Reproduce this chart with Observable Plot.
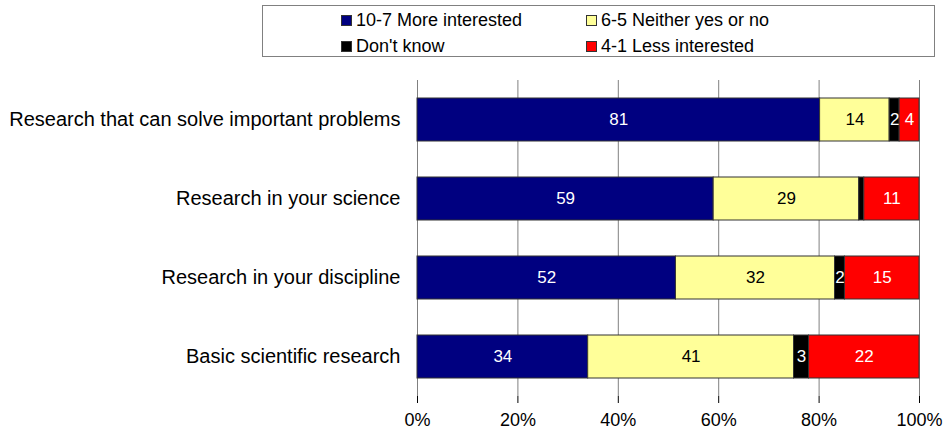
<!DOCTYPE html>
<html>
<head>
<meta charset="utf-8">
<script src="https://cdn.jsdelivr.net/npm/d3@7"></script>
<script src="https://cdn.jsdelivr.net/npm/@observablehq/plot@0.6"></script>
<style>
  body { margin: 0; background: #fff; font-family: "Liberation Sans", Arial, sans-serif; }
  #wrap { position: relative; width: 947px; height: 432px; }
  #legend { position: absolute; left: 262px; top: 5px; width: 671px; height: 50px; border: 1px solid #808080; background: #fff; font-size: 18px; color: #000; }
  .item { position: absolute; display: flex; align-items: center; white-space: nowrap; line-height: 20px; }
  .sw { width: 9px; height: 9px; border: 1px solid #333; margin-right: 4px; }
</style>
</head>
<body>
<div id="wrap"></div>
<script>
const categories = ["Research that can solve important problems", "Research in your science", "Research in your discipline", "Basic scientific research"];
const series = ["10-7 More interested", "6-5 Neither yes or no", "Don't know", "4-1 Less interested"];
const colors = ["#000080", "#FFFF99", "#000000", "#FF0000"];
const moreInterested = [81, 59, 52, 34];
const neither = [14, 29, 32, 41];
const dontKnow = [2, 1, 2, 3];
const lessInterested = [4, 11, 15, 22];
const xTicks = [0, 0.2, 0.4, 0.6, 0.8, 1];

const valuesBySeries = [moreInterested, neither, dontKnow, lessInterested];
const data = [];
categories.forEach((c, i) => {
  series.forEach((s, j) => data.push({category: c, series: s, value: valuesBySeries[j][i]}));
});

const stackOpts = {x: "value", y: "category", z: "series", order: series, offset: "normalize"};

const chart = Plot.plot({
  width: 947,
  height: 432,
  marginLeft: 417,
  marginRight: 28,
  marginTop: 80,
  marginBottom: 36,
  style: {fontFamily: "'Liberation Sans', Arial, sans-serif", fontSize: "18px", color: "#000", background: "#fff"},
  x: {domain: [0, 1]},
  y: {domain: categories, paddingInner: 0.456, paddingOuter: 0.228},
  color: {domain: series, range: colors},
  marks: [
    Plot.gridX(xTicks, {stroke: "#808080", strokeOpacity: 1}),
    Plot.barX(data, Plot.stackX({...stackOpts, fill: "series", stroke: "#333", strokeWidth: 1})),
    Plot.text(data, Plot.stackX({...stackOpts, text: d => (d.series === series[1] && d.value >= 2) ? d.value : null, fill: "black", fontSize: 17})),
    Plot.text(data, Plot.stackX({...stackOpts, text: d => (d.series !== series[1] && d.value >= 2) ? d.value : null, fill: "white", fontSize: 17})),
    Plot.axisX({ticks: xTicks, tickFormat: d3.format(".0%"), tickSize: 7, tickPadding: 10, line: true, stroke: "#000", fontSize: 18, label: null}),
    Plot.axisY({tickSize: 0, tickPadding: 17, fontSize: 20, label: null})
  ]
});

const wrap = document.getElementById("wrap");
wrap.appendChild(chart);

const legend = document.createElement("div");
legend.id = "legend";
const pos = [[78, 4], [323, 4], [78, 30], [323, 30]];
[0, 1, 2, 3].forEach((k, idx) => {
  const it = document.createElement("div");
  it.className = "item";
  it.style.left = pos[idx][0] + "px";
  it.style.top = pos[idx][1] + "px";
  const sw = document.createElement("span");
  sw.className = "sw";
  sw.style.background = colors[k];
  const tx = document.createElement("span");
  tx.textContent = series[k];
  it.appendChild(sw);
  it.appendChild(tx);
  legend.appendChild(it);
});
wrap.appendChild(legend);
</script>
</body>
</html>
